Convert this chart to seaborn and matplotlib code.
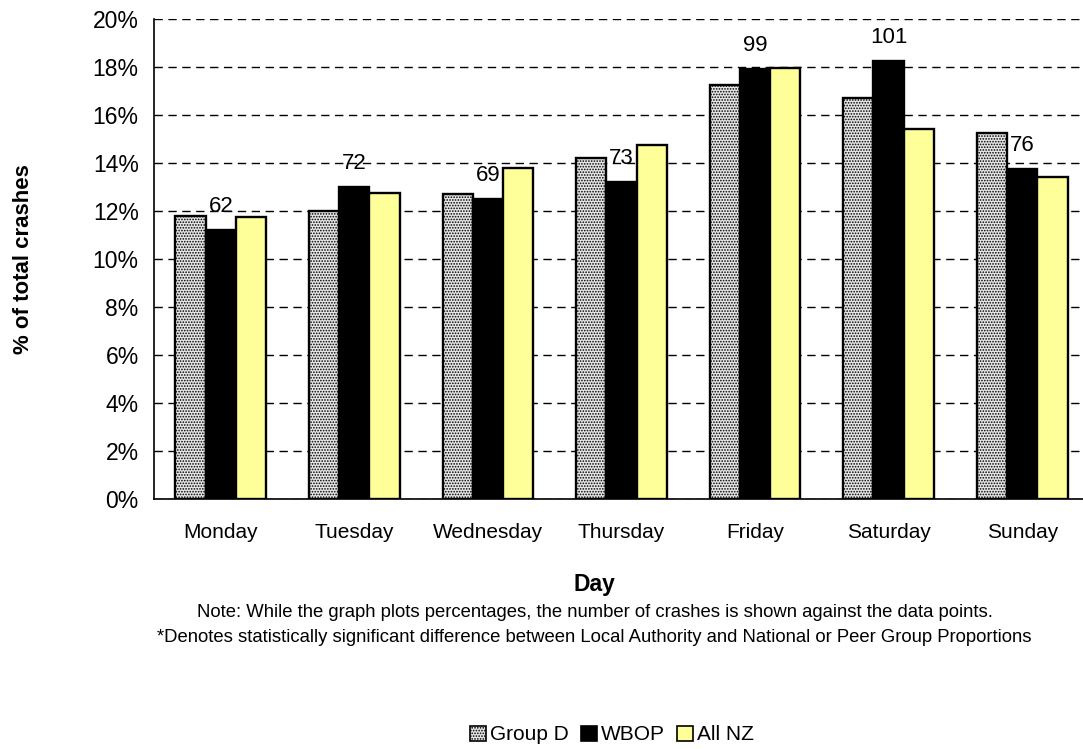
import matplotlib
matplotlib.use("Agg")
import matplotlib.pyplot as plt
from matplotlib.patches import Patch
from matplotlib.ticker import FuncFormatter, FixedLocator
import seaborn as sns
import pandas as pd

days = ["Monday", "Tuesday", "Wednesday", "Thursday", "Friday", "Saturday", "Sunday"]
areas = ["Group D", "WBOP", "All NZ"]
group_d = [11.8, 12.0, 12.7, 14.2, 17.25, 16.7, 15.25]
wbop = [11.2, 13.0, 12.5, 13.2, 17.9, 18.25, 13.75]
all_nz = [11.75, 12.75, 13.8, 14.75, 17.95, 15.4, 13.4]
crash_counts = ["62", "72", "69", "73", "99", "101", "76"]

colors = ["#E6E6E6", "#000000", "#FFFF99"]

sns.set_style("white")
plt.rcParams["font.family"] = ["Liberation Sans", "DejaVu Sans"]
plt.rcParams["hatch.linewidth"] = 0.8
for key in ["text.color", "axes.labelcolor", "xtick.color", "ytick.color"]:
    plt.rcParams[key] = "black"

df = pd.DataFrame({
    "Day": days * 3,
    "Area": [a for a in areas for _ in days],
    "Pct": group_d + wbop + all_nz,
})

fig = plt.figure(figsize=(10.83, 7.49), dpi=100)
ax = fig.add_axes([0.1422, 0.3338, 0.8633, 0.6409])

sns.barplot(data=df, x="Day", y="Pct", hue="Area", hue_order=areas,
            palette=colors, saturation=1, width=0.68, gap=0,
            edgecolor="black", linewidth=1.7, legend=False, ax=ax, zorder=3)

# dotted fill for the peer group bars
for bar in ax.containers[0]:
    bar.set_hatch("......")

ax.bar_label(ax.containers[1], labels=crash_counts, padding=9.5, fontsize=16,
             color="black", zorder=4)

ax.set_ylim(0, 20)
ax.set_yticks(range(0, 21, 2))
ax.yaxis.set_major_formatter(FuncFormatter(lambda v, p: f"{v:.0f}%"))
ax.grid(axis="y", color="black", linestyle=(0, (6, 4)), linewidth=1.0, zorder=0)
ax.set_axisbelow(True)

ax.set_xlim(-0.5, 6.5)
ax.xaxis.set_minor_locator(FixedLocator([i - 0.5 for i in range(8)]))
ax.tick_params(axis="x", which="major", length=0, labelsize=15, pad=17)
ax.tick_params(axis="x", which="minor", length=6, width=1.0, color="black", direction="out")
ax.tick_params(axis="y", length=6, width=1.0, color="black", direction="out", labelsize=16.5, pad=5)

for s in ["top", "right"]:
    ax.spines[s].set_visible(False)
for s in ["left", "bottom"]:
    ax.spines[s].set_color("black")
    ax.spines[s].set_linewidth(1.2)

ax.set_xlabel("")
ax.set_ylabel("")

fig.text(0.022, 0.654, "% of total crashes", rotation=90, ha="center", va="center",
         fontsize=16, fontweight="bold")
fig.text(0.549, 0.219, "Day", ha="center", va="center", fontsize=16.5, fontweight="bold")
fig.text(0.549, 0.1816, "Note: While the graph plots percentages, the number of crashes is shown against the data points.",
         ha="center", va="center", fontsize=13.3)
fig.text(0.549, 0.1495, "*Denotes statistically significant difference between Local Authority and National or Peer Group Proportions",
         ha="center", va="center", fontsize=13.3)

handles = [Patch(facecolor=colors[0], edgecolor="black", hatch="......", linewidth=1.2),
           Patch(facecolor=colors[1], edgecolor="black", linewidth=1.2),
           Patch(facecolor=colors[2], edgecolor="black", linewidth=1.2)]
fig.legend(handles, areas, loc="center", bbox_to_anchor=(0.565, 0.0187), ncol=3,
           frameon=False, fontsize=15, handlelength=0.75, handleheight=0.75,
           handletextpad=0.2, columnspacing=0.6, borderaxespad=0)

fig.savefig("out.png", dpi=100)
